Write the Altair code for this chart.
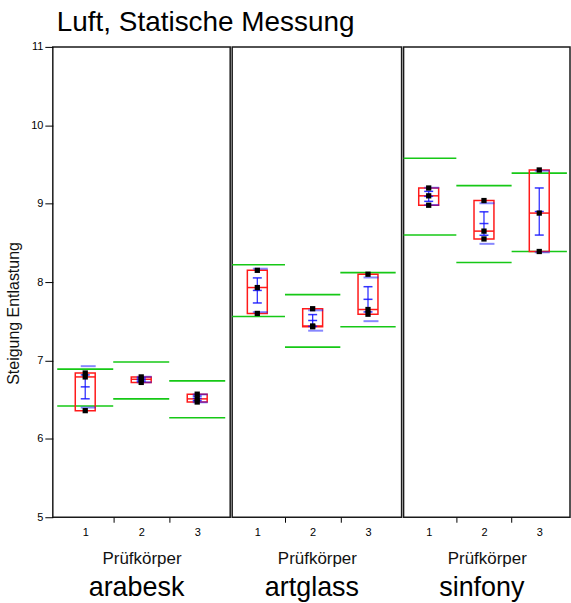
import altair as alt
import pandas as pd

materials = ["arabesk", "artglass", "sinfony"]
specimens = [1, 2, 3]

# measured values (Steigung Entlastung), three measurements per Prüfkörper
arabesk_vals = [[6.84, 6.79, 6.36], [6.79, 6.76, 6.72], [6.57, 6.51, 6.47]]
artglass_vals = [[8.15, 7.93, 7.60], [7.66, 7.44, 7.43], [8.10, 7.65, 7.59]]
sinfony_vals = [[9.20, 9.10, 8.98], [9.04, 8.65, 8.55], [9.43, 8.88, 8.39]]

# green limit lines (lower / upper) per Prüfkörper
arabesk_lo = [6.42, 6.51, 6.27]
arabesk_hi = [6.89, 6.98, 6.74]
artglass_lo = [7.56, 7.17, 7.43]
artglass_hi = [8.22, 7.84, 8.12]
sinfony_lo = [8.60, 8.25, 8.39]
sinfony_hi = [9.58, 9.23, 9.39]

y_ticks = [5, 6, 7, 8, 9, 10, 11]

vals = {"arabesk": arabesk_vals, "artglass": artglass_vals, "sinfony": sinfony_vals}
los = {"arabesk": arabesk_lo, "artglass": artglass_lo, "sinfony": sinfony_lo}
his = {"arabesk": arabesk_hi, "artglass": artglass_hi, "sinfony": sinfony_hi}

pt_rows = []
lim_rows = []
for m in materials:
    for i, g in enumerate(specimens):
        for v in vals[m][i]:
            pt_rows.append({"material": m, "g": g, "v": v})
        lim_rows.append({"material": m, "g": g, "lo": los[m][i], "hi": his[m][i]})
pts_df = pd.DataFrame(pt_rows)
lim_df = pd.DataFrame(lim_rows)

GREEN = "#16c816"
RED = "#ff1a1a"
BLUE = "#1010ff"
FONT = "Liberation Sans"

layout = {
    "arabesk": ([0.51, 3.5], 178),
    "artglass": ([0.636, 3.517], 170),
    "sinfony": ([0.636, 3.466], 167),
}


def panel(mat, first):
    dom, w = layout[mat]
    xs = alt.Scale(domain=dom, nice=False, zero=False)
    ys = alt.Scale(domain=[5, 11], nice=False, zero=False)
    xax = alt.Axis(
        values=[1, 1.5, 2, 2.5, 3],
        labelExpr="datum.value % 1 == 0 ? format(datum.value, 'd') : ''",
        tickOpacity={"condition": {"test": "datum.value % 1 == 0", "value": 0}, "value": 1},
        tickSize=5, tickColor="black", tickWidth=1,
        domain=False, grid=False,
        labelFontSize=11, labelPadding=4, labelFlush=False, labelOverlap=False,
        labelColor="black", labelFont=FONT,
        title="Prüfkörper", titleFontSize=17, titleFontWeight="normal",
        titlePadding=13, titleColor="#111", titleFont=FONT,
    )
    if first:
        yax = alt.Axis(
            values=y_ticks, tickSize=8, tickColor="black", domain=False, grid=False,
            labelFontSize=11, labelPadding=2, labelColor="black", labelFont=FONT,
            title="Steigung Entlastung", titleFontSize=16, titleFontWeight="normal",
            titleColor="#111", titleFont=FONT, titlePadding=9, titleY=267,
        )
    else:
        yax = None

    def X(f):
        return alt.X(f, type="quantitative", scale=xs, axis=xax)

    def Y(f):
        return alt.Y(f, type="quantitative", scale=ys, axis=yax)

    lim = (
        alt.Chart(lim_df)
        .transform_filter(alt.datum.material == mat)
        .transform_fold(["lo", "hi"], as_=["kind", "val"])
        .transform_calculate(xa="datum.g - 0.5", xb="datum.g + 0.5")
    )
    green = lim.mark_rule(color=GREEN, strokeWidth=1.6, clip=True).encode(
        x=X("xa"), x2="xb:Q", y=Y("val")
    )

    st = (
        alt.Chart(pts_df)
        .transform_filter(alt.datum.material == mat)
        .transform_aggregate(
            m="mean(v)", sd="stdev(v)", se="stderr(v)",
            mn="min(v)", mx="max(v)", med="median(v)", groupby=["g"],
        )
        .transform_calculate(
            sdl="datum.m - datum.sd", sdh="datum.m + datum.sd",
            sel="datum.m - datum.se", seh="datum.m + datum.se",
        )
    )
    box = st.mark_bar(size=20, fill=RED, fillOpacity=0, stroke=RED, strokeWidth=1.5).encode(
        x=X("g"), y=Y("mn"), y2="mx:Q"
    )
    med = st.mark_tick(orient="horizontal", size=20, thickness=1.5, color=RED, opacity=1).encode(
        x=X("g"), y=Y("med")
    )
    se_rule = st.mark_rule(color=BLUE, strokeWidth=1.3, opacity=0.85).encode(
        x=X("g"), y=Y("sel"), y2="seh:Q"
    )
    mean_caps = (
        st.transform_fold(["m", "sel", "seh"], as_=["k", "yy"])
        .mark_tick(orient="horizontal", size=9, thickness=1.5, color=BLUE, opacity=0.85)
        .encode(x=X("g"), y=Y("yy"))
    )
    sd_lines = (
        st.transform_fold(["sdl", "sdh"], as_=["k", "yy"])
        .mark_tick(orient="horizontal", size=15, thickness=2, color=BLUE, opacity=0.5, xOffset=3)
        .encode(x=X("g"), y=Y("yy"))
    )
    points = (
        alt.Chart(pts_df)
        .transform_filter(alt.datum.material == mat)
        .mark_square(size=28, color="black", opacity=1)
        .encode(x=X("g"), y=Y("v"))
    )
    return alt.layer(green, box, med, sd_lines, se_rule, mean_caps, points).properties(
        width=w, height=472,
        view=alt.ViewBackground(stroke="#1a1a1a", strokeWidth=1.5, strokeOpacity=1),
        title=alt.TitleParams(
            mat, orient="bottom", anchor="middle", fontSize=27, fontWeight="normal",
            font=FONT, color="black", offset=9, dx=-5,
        ),
    )


chart = (
    alt.hconcat(*[panel(m, i == 0) for i, m in enumerate(materials)], spacing=0)
    .properties(
        title=alt.TitleParams(
            "Luft, Statische Messung", anchor="start", fontSize=28, fontWeight="normal",
            font=FONT, color="black", offset=3, dx=52,
        ),
        padding={"left": 5, "top": 8, "right": 0, "bottom": 2},
    )
    .configure_view(stroke="#1a1a1a", strokeWidth=1.5)
    .configure(font=FONT)
)

chart.save("out.html", embed_options={"renderer": "svg", "actions": False})
